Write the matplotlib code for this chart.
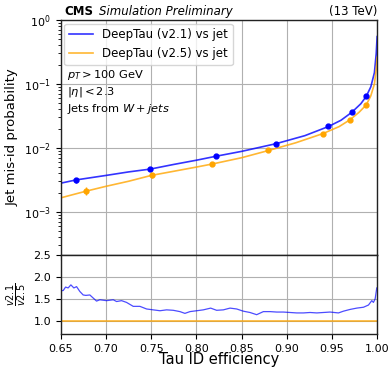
import matplotlib
matplotlib.use("Agg")
import matplotlib.pyplot as plt
import numpy as np

# Blue curve: DeepTau v2.1
eff_v21 = [0.650, 0.667, 0.700, 0.725, 0.749, 0.775, 0.800, 0.822, 0.850, 0.888,
           0.920, 0.946, 0.960, 0.972, 0.982, 0.988, 0.993, 0.997, 0.999, 1.000]
mis_v21 = [2.8e-3, 3.15e-3, 3.7e-3, 4.2e-3, 4.65e-3, 5.5e-3, 6.4e-3, 7.4e-3, 8.8e-3, 1.16e-2,
           1.55e-2, 2.15e-2, 2.7e-2, 3.6e-2, 4.9e-2, 6.4e-2, 0.09, 0.15, 0.30, 0.55]
# Orange curve: DeepTau v2.5
eff_v25 = [0.650, 0.660, 0.678, 0.700, 0.725, 0.750, 0.775, 0.800, 0.818, 0.850, 0.880,
           0.910, 0.940, 0.958, 0.970, 0.980, 0.988, 0.993, 0.997, 0.999, 1.000]
mis_v25 = [1.65e-3, 1.8e-3, 2.1e-3, 2.5e-3, 3.0e-3, 3.7e-3, 4.3e-3, 5.0e-3, 5.6e-3, 7.0e-3, 9.1e-3,
           1.2e-2, 1.67e-2, 2.15e-2, 2.75e-2, 3.6e-2, 4.7e-2, 0.065, 0.10, 0.17, 0.26]

# Working points (markers)
wp_eff_v21 = [0.6666, 0.7486, 0.8216, 0.888, 0.9457, 0.972, 0.988]
wp_mis_v21 = [3.1e-3, 4.6e-3, 7.4e-3, 1.16e-2, 2.17e-2, 3.6e-2, 6.4e-2]
wp_err_v21 = [0.3e-3, 0.3e-3, 0.3e-3, 0.4e-3, 0.6e-3, 0.8e-3, 1.0e-3]
wp_eff_v25 = [0.6777, 0.7504, 0.8176, 0.8796, 0.9398, 0.970, 0.9878]
wp_mis_v25 = [2.1e-3, 3.7e-3, 5.6e-3, 9.1e-3, 1.67e-2, 2.75e-2, 4.7e-2]
wp_err_v25 = [0.3e-3, 0.3e-3, 0.3e-3, 0.4e-3, 0.5e-3, 0.7e-3, 0.9e-3]

# Ratio v2.1 / v2.5
ratio_eff = [0.650, 0.6526, 0.6552, 0.6581, 0.6611, 0.6644, 0.6674, 0.6710, 0.6747, 0.6777,
             0.6821, 0.6858, 0.6895, 0.6932, 0.7006, 0.7080, 0.7117, 0.7172, 0.7227, 0.7301,
             0.7375, 0.7449, 0.7523, 0.7597, 0.7670, 0.7744, 0.7818, 0.7873, 0.7929, 0.8003,
             0.8076, 0.8158, 0.8224, 0.8298, 0.8372, 0.8446, 0.8519, 0.8593, 0.8667, 0.8741,
             0.8815, 0.8889, 0.8962, 0.9036, 0.9110, 0.9184, 0.9258, 0.9332, 0.9406, 0.9479,
             0.9572, 0.9627, 0.9701, 0.9775, 0.9849, 0.9904, 0.9941, 0.9959, 0.9978, 0.9996]
ratio_val = [1.69, 1.69, 1.77, 1.75, 1.82, 1.75, 1.78, 1.67, 1.59, 1.58,
             1.59, 1.52, 1.45, 1.48, 1.46, 1.48, 1.44, 1.46, 1.42, 1.33,
             1.33, 1.27, 1.25, 1.23, 1.25, 1.24, 1.21, 1.17, 1.21, 1.23,
             1.25, 1.29, 1.24, 1.25, 1.29, 1.27, 1.22, 1.19, 1.14, 1.21,
             1.21, 1.20, 1.20, 1.19, 1.18, 1.18, 1.19, 1.18, 1.19, 1.20,
             1.18, 1.22, 1.26, 1.29, 1.31, 1.36, 1.46, 1.42, 1.50, 1.75]

BLUE = "#0000ff"
ORANGE = "#ffa500"

fig = plt.figure(figsize=(3.9, 3.67), dpi=100)
L, R = 0.156, 0.967
ax = fig.add_axes([L, 0.305, R - L, 0.9455 - 0.305])
axr = fig.add_axes([L, 0.09, R - L, 0.305 - 0.09], sharex=ax)

ax.plot(eff_v21, mis_v21, color=BLUE, lw=1.2, alpha=0.8, label="DeepTau (v2.1) vs jet")
ax.plot(eff_v25, mis_v25, color=ORANGE, lw=1.2, alpha=0.8, label="DeepTau (v2.5) vs jet")
ax.errorbar(wp_eff_v21, wp_mis_v21, yerr=wp_err_v21, fmt="o", color=BLUE, ms=3.5, lw=1)
ax.errorbar(wp_eff_v25, wp_mis_v25, yerr=wp_err_v25, fmt="o", color=ORANGE, ms=3.5, lw=1)
ax.set_yscale("log")
ax.set_ylim(2.1e-4, 1.0)
ax.set_xlim(0.65, 1.0)
ax.grid(True, color="#b0b0b0", lw=0.8)
ax.tick_params(labelbottom=False, labelsize=8)
ax.set_ylabel("Jet mis-id probability", fontsize=9.5)
leg = ax.legend(loc="upper left", fontsize=8.5, frameon=True, handlelength=2.0,
                borderaxespad=0.3)
ax.text(0.02, 0.795, "$p_T > 100$ GeV\n$|\\eta| < 2.3$\nJets from $W + jets$",
        transform=ax.transAxes, fontsize=8.2, va="top", ha="left", linespacing=1.3)
ax.text(0.01, 1.01, "CMS", transform=ax.transAxes, fontsize=8.5, fontweight="bold",
        va="bottom", ha="left")
ax.text(0.12, 1.01, "Simulation Preliminary", transform=ax.transAxes, fontsize=8.5,
        fontstyle="italic", va="bottom", ha="left")
ax.text(1.0, 1.01, "(13 TeV)", transform=ax.transAxes, fontsize=8.5, va="bottom", ha="right")

axr.plot(ratio_eff, ratio_val, color=BLUE, lw=0.9, alpha=0.7)
axr.axhline(1.0, color=ORANGE, lw=1.2, alpha=0.8)
axr.set_ylim(0.7, 2.5)
axr.set_yticks([1.0, 1.5, 2.0, 2.5])
axr.set_xticks([0.65, 0.70, 0.75, 0.80, 0.85, 0.90, 0.95, 1.00])
axr.set_xlim(0.65, 1.0)
axr.grid(True, color="#b0b0b0", lw=0.8)
axr.tick_params(labelsize=8)
axr.set_xlabel("Tau ID efficiency", fontsize=10.5, labelpad=-1)
axr.set_ylabel(r"$\frac{v2.1}{v2.5}$", fontsize=10, labelpad=3)
for a in (ax, axr):
    for s in a.spines.values():
        s.set_linewidth(1.0)
        s.set_color("#222222")

fig.savefig("out.png", dpi=100)
